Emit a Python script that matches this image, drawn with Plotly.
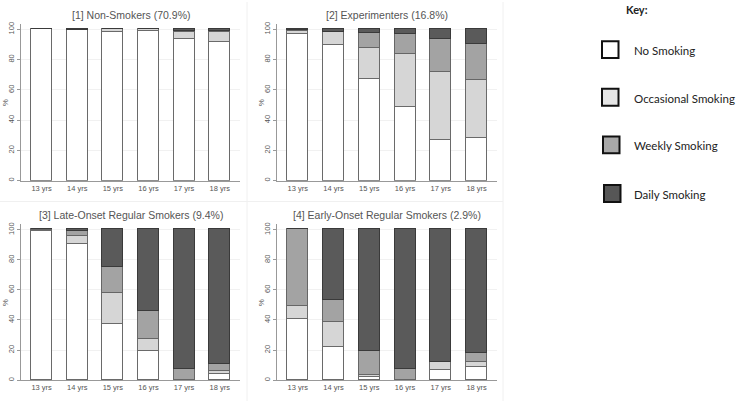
import plotly.graph_objects as go

ages = ["13 yrs", "14 yrs", "15 yrs", "16 yrs", "17 yrs", "18 yrs"]
series_names = ["No Smoking", "Occasional Smoking", "Weekly Smoking", "Daily Smoking"]
panel_titles = [
    "[1] Non-Smokers (70.9%)",
    "[2] Experimenters (16.8%)",
    "[3] Late-Onset Regular Smokers (9.4%)",
    "[4] Early-Onset Regular Smokers (2.9%)",
]
y_ticks = [0, 20, 40, 60, 80, 100]

p1_none = [100, 99.5, 98, 99, 94, 92]
p1_occ = [0, 0, 2, 1, 4.5, 6.5]
p1_weekly = [0, 0, 0, 0, 0.5, 0.5]
p1_daily = [0, 0.5, 0, 0, 1, 1]

p2_none = [97, 90, 67, 49, 27, 28]
p2_occ = [1.8, 8, 21, 34.5, 45, 38.4]
p2_weekly = [1, 0.5, 9.6, 13.4, 22, 24.2]
p2_daily = [0.2, 1.5, 2.4, 3.1, 6, 9.4]

p3_none = [99, 90.5, 37, 19, 0, 4]
p3_occ = [0.3, 5, 20.5, 8, 0, 2]
p3_weekly = [0.7, 3.5, 17.5, 19, 7.5, 4.5]
p3_daily = [0, 1, 25, 54, 92.5, 89.5]

p4_none = [40.5, 21.5, 2, 0, 6.5, 8.5]
p4_occ = [8.5, 17, 1.5, 0, 5.5, 3.5]
p4_weekly = [51, 14.5, 16, 7, 0, 6]
p4_daily = [0, 47, 80.5, 93, 88, 82]

panels = [
    [p1_none, p1_occ, p1_weekly, p1_daily],
    [p2_none, p2_occ, p2_weekly, p2_daily],
    [p3_none, p3_occ, p3_weekly, p3_daily],
    [p4_none, p4_occ, p4_weekly, p4_daily],
]

fills = ["#ffffff", "#d6d6d6", "#a3a3a3", "#5a5a5a"]
edges = ["#6a6a6a", "#6a6a6a", "#666666", "#3a3a3a"]
legend_fills = ["#ffffff", "#e6e6e6", "#a8a8a8", "#565656"]

W, H = 740, 402
TXT = "#555555"
FONT = "Liberation Sans, Arial, sans-serif"
KEYFONT = "Lato, Carlito, Liberation Sans, sans-serif"

# pixel layout of each panel: (x_left, x_right, y_top, y_bottom)
boxes = [
    (21, 240, 22, 180),
    (277, 497, 22, 180),
    (21, 240, 224, 381),
    (277, 497, 224, 381),
]

fig = go.Figure()
for i, (data, box) in enumerate(zip(panels, boxes)):
    xa = "x" if i == 0 else f"x{i+1}"
    ya = "y" if i == 0 else f"y{i+1}"
    for j, vals in enumerate(data):
        fig.add_trace(go.Bar(
            x=list(range(len(ages))), y=vals, name=series_names[j],
            xaxis=xa, yaxis=ya, width=0.59, showlegend=False,
            marker=dict(color=fills[j], line=dict(color=edges[j], width=1)),
        ))
    xl, xr, yt, yb = box
    xkey = "xaxis" if i == 0 else f"xaxis{i+1}"
    ykey = "yaxis" if i == 0 else f"yaxis{i+1}"
    fig.layout[xkey] = dict(
        domain=[xl / W, xr / W], range=[-0.58, 5.57], anchor=ya,
        tickmode="array", tickvals=list(range(len(ages))), ticktext=ages,
        showgrid=False, zeroline=False, showline=True, linecolor="#999999",
        linewidth=1, ticks="", tickfont=dict(size=7.5, color=TXT, family=FONT),
        fixedrange=True,
    )
    fig.layout[ykey] = dict(
        domain=[1 - yb / H, 1 - yt / H], range=[0, 103.6], anchor=xa,
        tickmode="array", tickvals=y_ticks, ticktext=[str(t) for t in y_ticks],
        tickangle=-90, showgrid=True, gridcolor="#f1f1f1", gridwidth=1,
        zeroline=False, showline=True, linecolor="#999999", linewidth=1,
        ticks="outside", ticklen=3, tickcolor="#999999",
        tickfont=dict(size=7.5, color=TXT, family=FONT), fixedrange=True,
    )
    fig.add_annotation(
        x=(xl + xr) / 2 / W, y=1 - (yt - 9) / H, xref="paper", yref="paper",
        text=panel_titles[i], showarrow=False, xanchor="center", yanchor="middle",
        font=dict(size=10.5, color=TXT, family=FONT),
    )
    fig.add_annotation(
        x=(xl - 16) / W, y=1 - ((yt + yb) / 2 + 1) / H, xref="paper", yref="paper",
        text="%", showarrow=False, textangle=-90, xanchor="center", yanchor="middle",
        font=dict(size=8, color=TXT, family=FONT),
    )

# faint panel separators
shapes = [
    dict(type="line", xref="paper", yref="paper", x0=247 / W, x1=247 / W,
         y0=0, y1=1, line=dict(color="#f0f0f0", width=1)),
    dict(type="line", xref="paper", yref="paper", x0=503 / W, x1=503 / W,
         y0=0, y1=1, line=dict(color="#f0f0f0", width=1)),
    dict(type="line", xref="paper", yref="paper", x0=0, x1=503 / W,
         y0=1 - 201 / H, y1=1 - 201 / H, line=dict(color="#f0f0f0", width=1)),
]

# key
fig.add_annotation(
    x=637 / W, y=1 - 8 / H, xref="paper", yref="paper", text="<b>Key:</b>",
    showarrow=False, xanchor="center", yanchor="middle",
    font=dict(size=11, color="#222222", family=KEYFONT),
)
key_rows = [48, 96, 144, 193]
key_x = [602, 602, 603, 604]
for k, (name, yc, kx) in enumerate(zip(series_names, key_rows, key_x)):
    shapes.append(dict(
        type="rect", xref="paper", yref="paper",
        x0=kx / W, x1=(kx + 16.5) / W, y0=1 - (yc + 8.5) / H, y1=1 - (yc - 8.5) / H,
        fillcolor=legend_fills[k], line=dict(color="#111111", width=2),
    ))
    fig.add_annotation(
        x=632 / W, y=1 - (yc + 1) / H, xref="paper", yref="paper", text=name,
        showarrow=False, xanchor="left", yanchor="middle",
        font=dict(size=11.5, color="#222222", family=KEYFONT),
    )

fig.update_layout(
    width=W, height=H, margin=dict(l=0, r=0, t=0, b=0),
    barmode="stack", bargap=0, plot_bgcolor="white", paper_bgcolor="white",
    shapes=shapes, showlegend=False,
)

fig.write_html(
    "out.html", config={"displayModeBar": False},
    post_script="document.body.style.margin='0';document.body.style.padding='0';",
)
